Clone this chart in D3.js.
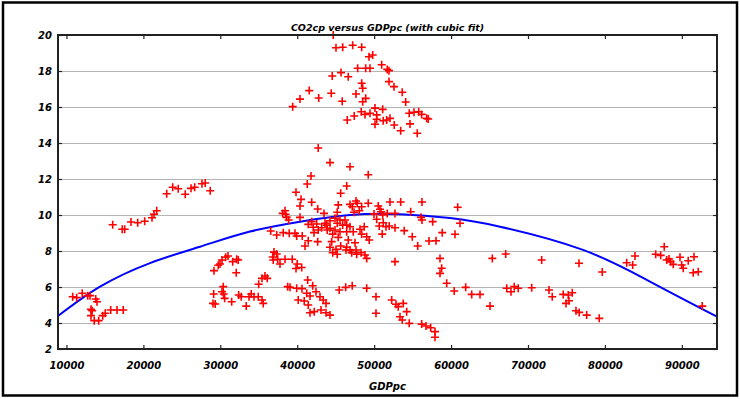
<!DOCTYPE html>
<html>
<head>
<meta charset="utf-8">
<script src="https://cdn.jsdelivr.net/npm/d3@7"></script>
<style>
  body { margin: 0; background: #fff; }
  svg text { font-family: "DejaVu Sans", Verdana, sans-serif; font-weight: bold; font-style: italic; fill: #000; }
</style>
</head>
<body>
<svg id="chart" width="740" height="399"></svg>
<script>
// values
const gdppc = [
  10810,11330,12050,12760,13060,13800,13970,13190,13350,13190,
  13610,14190,14710,15040,15750,16570,17380,16010,17250,17570,
  18390,19260,20170,21120,21380,21730,23030,23810,24530,25440,
  26190,26670,27620,28040,28690,29180,29730,29960,30220,30700,
  31000,31610,32130,32330,32070,29140,29050,29340,30220,30380,
  30440,30570,31480,32390,32720,33370,33730,34020,34380,34930,
  35420,35580,34990,35420,35810,36100,36550,37330,38180,38960,
  39710,39930,40650,38110,38410,38500,38630,38890,41790,41300,
  46430,39840,45650,40490,41880,40360,45330,42660,46860,47640,
  47800,47150,48060,49230,43480,45200,47380,40360,41880,41430,
  42530,43180,42080,43610,44260,43830,44260,44910,45200,45560,
  46210,45910,46430,46860,44910,43900,42730,42180,44610,45560,
  46430,47280,48160,48710,48380,49030,49360,45330,44480,46630,
  47510,42660,41430,41010,44260,45040,45650,46430,46860,47640,
  48290,48810,49030,47730,47080,46340,45200,44610,36980,37330,
  36810,36880,37460,37760,38410,39350,40000,39840,40580,38760,
  39060,39930,40620,41360,42010,41230,41660,40130,40910,41430,
  42440,42960,43380,43740,41660,42210,43090,43740,44260,45460,
  46300,47150,49030,50240,50240,52280,52840,53130,53780,54230,
  53360,53650,54560,56180,56740,57350,57910,57910,52710,58560,
  58780,58560,59430,60410,61900,62680,63760,65060,65360,46860,
  49230,48380,50530,50760,52060,53450,56220,60860,54750,49980,
  51110,51700,52710,56090,56220,57610,61160,50330,51180,50660,
  51540,51960,52710,51050,53910,54950,58850,60510,57130,58040,
  55660,44680,45040,45910,47210,48380,49330,49810,47860,48900,
  49460,50980,51700,51930,44550,45690,46630,48380,48510,51930,
  52580,53650,54100,41560,40360,42790,44420,45850,47640,48510,
  48900,39410,50110,51110,48320,48810,49460,50330,50330,47410,
  46500,50110,51180,51630,52060,52610,53450,54660,54560,55180,
  55790,56180,56830,57030,55600,42730,44260,67100,71780,76630,
  79650,82830,83610,83910,86600,87250,87710,88030,88330,88550,
  88880,89760,89980,90180,90830,91580,91480,92130,92650,67230,
  67790,68210,68730,70480,72730,73150,74580,75230,75750,74940,
  75330,76240,76660,77630,79260,50890
];
const co2cp = [
  5.46,5.41,5.65,5.52,5.52,5.33,5.18,4.76,4.68,4.41,
  4.13,4.13,4.41,4.54,4.72,4.72,4.72,9.46,9.21,9.21,
  9.61,9.57,9.65,9.85,10.04,10.24,11.18,11.54,11.46,11.15,
  11.48,11.54,11.74,11.78,11.35,6.91,7.21,7.28,7.50,7.65,
  7.72,7.41,7.54,7.50,6.79,5.61,5.09,5.06,5.74,6.02,
  5.61,5.37,5.18,5.56,5.46,4.94,5.46,5.61,5.46,5.46,
  5.28,5.09,6.15,6.48,6.61,6.48,9.11,8.89,9.02,8.98,
  8.98,8.83,8.83,10.09,10.24,10.04,9.87,9.72,12.17,11.72,
  11.61,11.26,11.21,10.87,10.71,10.50,10.56,10.33,10.59,10.78,
  10.65,10.46,10.24,10.65,10.09,10.15,10.15,9.87,9.63,9.48,
  9.50,9.29,9.32,9.54,9.68,9.44,9.26,9.82,9.54,9.72,
  9.72,9.44,9.44,9.35,9.17,9.17,9.17,9.02,8.94,9.07,
  9.07,9.07,9.21,9.35,8.94,8.79,8.61,8.76,8.52,8.61,
  8.46,8.52,8.57,8.28,8.21,8.09,8.28,8.21,8.06,8.06,
  7.91,7.78,7.59,7.82,7.91,8.06,7.82,7.91,7.94,7.83,
  7.67,7.50,7.54,7.28,7.54,7.54,7.28,7.03,7.08,6.02,
  5.98,5.93,5.91,6.39,6.07,5.65,5.50,5.28,5.22,5.00,
  5.74,5.46,5.28,5.09,4.57,4.63,4.72,4.57,4.44,5.83,
  5.98,6.07,5.93,5.46,4.54,5.28,5.04,4.91,5.09,4.63,
  4.35,4.17,3.98,3.94,3.83,3.74,3.52,3.21,7.41,7.59,
  7.04,6.76,6.21,5.78,5.98,5.59,5.59,4.94,7.59,12.68,
  12.24,10.46,10.50,10.32,10.72,10.72,10.72,10.43,10.18,10.06,
  10.00,10.09,10.09,9.87,9.72,9.63,9.54,9.76,9.57,9.39,
  9.35,9.39,9.29,8.94,9.13,8.79,9.02,8.93,8.56,8.57,
  8.28,20.00,19.29,19.32,19.43,19.32,18.79,18.89,18.15,18.15,
  18.15,18.35,18.09,18.02,17.72,17.91,17.68,17.32,17.04,17.41,
  17.13,16.82,16.28,16.91,16.44,16.50,16.76,16.32,16.72,16.29,
  16.48,16.02,15.94,15.87,15.74,15.59,15.65,15.56,15.32,15.50,
  15.28,15.04,15.24,15.28,15.37,15.00,14.68,15.06,15.65,15.71,
  15.74,15.59,15.37,15.33,14.54,13.72,12.91,7.83,7.50,7.32,
  6.83,7.35,7.22,7.72,7.82,7.76,8.24,7.50,7.56,7.41,
  7.26,7.65,7.22,7.04,7.46,7.68,6.79,6.85,4.94,5.93,
  5.74,6.02,5.93,5.96,5.83,5.46,5.59,5.56,5.68,5.09,
  5.24,4.68,4.59,4.44,4.26,10.18
];

// cubic fit line
const fitGdp = [8900, 14360, 20860, 27360, 33860, 40360, 46860, 53360, 59860, 66360, 77150, 85860, 94570];
const fitCo2 = [4.39, 6.02, 7.33, 8.24, 9.08, 9.63, 10.00, 10.04, 9.83, 9.35, 8.06, 6.30, 4.35];

const xTicks = [10000, 20000, 30000, 40000, 50000, 60000, 70000, 80000, 90000];
const yTicks = [2, 4, 6, 8, 10, 12, 14, 16, 18, 20];
const chartTitle = 'CO2cp versus GDPpc (with cubic fit)';
const xTitle = 'GDPpc';

const svg = d3.select('#chart');
const margin = { left: 58, top: 35, right: 717, bottom: 349 };
const w = margin.right - margin.left, h = margin.bottom - margin.top;

// outer frame
svg.append('rect')
  .attr('x', 3).attr('y', 2.5).attr('width', 734).attr('height', 393)
  .attr('fill', 'none').attr('stroke', '#000').attr('stroke-width', 2.5);

const x = d3.scaleLinear().domain([8900, 94570]).range([0, w]);
const y = d3.scaleLinear().domain([2.556, 20]).range([h, 0]).clamp(true);

const g = svg.append('g').attr('transform', 'translate(' + margin.left + ',' + margin.top + ')');

// grid
g.append('g')
  .attr('class', 'grid')
  .call(d3.axisLeft(y).tickValues(yTicks.slice(1, -1)).tickSize(-w).tickFormat(''))
  .call(s => s.select('.domain').remove())
  .call(s => s.selectAll('line').attr('stroke', '#b4b4b4').attr('stroke-width', 1));

g.append('defs').append('clipPath').attr('id', 'clip')
  .append('rect').attr('width', w).attr('height', h);

// fit line
const fitPts = fitGdp.map((d, i) => [d, fitCo2[i]]);
g.append('path')
  .attr('clip-path', 'url(#clip)')
  .attr('d', d3.line().x(d => x(d[0])).y(d => y(d[1])).curve(d3.curveNatural)(fitPts))
  .attr('fill', 'none').attr('stroke', '#0000ff').attr('stroke-width', 2);

// points
const pts = gdppc.map((d, i) => [d, co2cp[i]]);
g.append('g').selectAll('path')
  .data(pts)
  .enter().append('path')
  .attr('transform', d => 'translate(' + x(d[0]) + ',' + y(d[1]) + ')')
  .attr('d', 'M-4,0H4M0,-4V4')
  .attr('stroke', '#ff0000').attr('stroke-width', 1.6).attr('fill', 'none');

// axes, ticks pointing inward
const yAx = g.append('g').attr('class', 'ax')
  .call(d3.axisLeft(y).tickValues(yTicks).tickSizeInner(-4).tickSizeOuter(0).tickPadding(6).tickFormat(d3.format('d')));
g.append('g').attr('class', 'ax').attr('transform', 'translate(' + w + ',0)')
  .call(d3.axisRight(y).tickValues(yTicks).tickSizeInner(-4).tickSizeOuter(0).tickFormat(''));
const xAx = g.append('g').attr('class', 'ax').attr('transform', 'translate(0,' + h + ')')
  .call(d3.axisBottom(x).tickValues(xTicks).tickSizeInner(-4).tickSizeOuter(0).tickPadding(16).tickFormat(d3.format('d')));
g.append('g').attr('class', 'ax')
  .call(d3.axisTop(x).tickValues(xTicks).tickSizeInner(-4).tickSizeOuter(0).tickFormat(''));

g.selectAll('.domain').remove();
g.selectAll('.ax .tick line').attr('stroke', '#222').attr('stroke-width', 1.2);
yAx.selectAll('text').attr('font-size', 10);
xAx.selectAll('text').attr('font-size', 10).attr('dy', '0.35em');

// plot frame
g.append('rect').attr('width', w).attr('height', h)
  .attr('fill', 'none').attr('stroke', '#222').attr('stroke-width', 2);

svg.append('text')
  .attr('x', margin.left + w / 2).attr('y', 31)
  .attr('text-anchor', 'middle').attr('font-size', 9.5)
  .text(chartTitle);

svg.append('text')
  .attr('x', margin.left + w / 2).attr('y', 390)
  .attr('text-anchor', 'middle').attr('font-size', 10)
  .text(xTitle);
</script>
</body>
</html>
